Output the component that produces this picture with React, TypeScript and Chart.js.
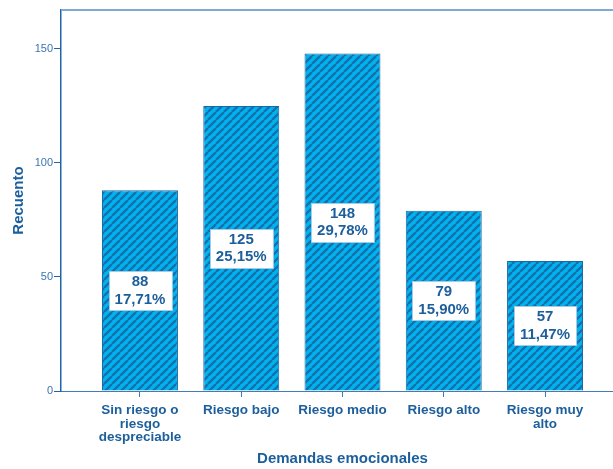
import React, { useEffect, useRef } from "react";
import { Chart, registerables } from "chart.js";

Chart.register(...registerables);

const categories: (string | string[])[] = [
  ["Sin riesgo o", "riesgo", "despreciable"],
  "Riesgo bajo",
  "Riesgo medio",
  "Riesgo alto",
  ["Riesgo muy", "alto"],
];
const counts = [88, 125, 148, 79, 57];
const percents = ["17,71%", "25,15%", "29,78%", "15,90%", "11,47%"];
const yTicks = [0, 50, 100, 150];
const xTitle = "Demandas emocionales";
const yTitle = "Recuento";

const TEXT = "#1c5f9c";
const FONT = "'Liberation Sans', Arial, sans-serif";

function makePattern(): CanvasPattern | string {
  const s = 8;
  const c = document.createElement("canvas");
  c.width = s;
  c.height = s;
  const g = c.getContext("2d");
  if (!g) return "#00aeef";
  g.fillStyle = "#00b2f0";
  g.fillRect(0, 0, s, s);
  g.strokeStyle = "#1470a8";
  g.lineWidth = 2.3;
  g.beginPath();
  for (let k = -1; k <= 1; k++) {
    g.moveTo(k * s, s);
    g.lineTo(k * s + s, 0);
  }
  g.stroke();
  const p = g.createPattern(c, "repeat");
  return p || "#00aeef";
}

const framePlugin = {
  id: "frame",
  beforeDatasetsDraw(chart: any) {
    const { ctx, chartArea } = chart;
    ctx.save();
    ctx.strokeStyle = "#7eabd2";
    ctx.lineWidth = 2;
    ctx.beginPath();
    ctx.moveTo(chartArea.left, chartArea.top);
    ctx.lineTo(chartArea.right, chartArea.top);
    ctx.lineTo(chartArea.right, chartArea.bottom);
    ctx.stroke();
    ctx.restore();
  },
};

const labelPlugin = {
  id: "valueBoxes",
  afterDatasetsDraw(chart: any) {
    const { ctx } = chart;
    const meta = chart.getDatasetMeta(0);
    ctx.save();
    ctx.font = `bold 15px ${FONT}`;
    ctx.textAlign = "center";
    ctx.textBaseline = "middle";
    meta.data.forEach((bar: any, i: number) => {
      const cx = bar.x;
      const cy = (bar.y + bar.base) / 2;
      const l1 = String(counts[i]);
      const l2 = percents[i];
      const w = Math.max(ctx.measureText(l1).width, ctx.measureText(l2).width) + 12;
      const h = 39;
      const x0 = Math.round(cx - w / 2) + 0.5;
      const y0 = Math.round(cy - h / 2) + 0.5;
      ctx.fillStyle = "#ffffff";
      ctx.fillRect(x0, y0, w, h);
      ctx.strokeStyle = "#a9c9e2";
      ctx.lineWidth = 1;
      ctx.strokeRect(x0, y0, w, h);
      ctx.fillStyle = TEXT;
      ctx.fillText(l1, cx, cy - 8.5);
      ctx.fillText(l2, cx, cy + 9);
    });
    ctx.restore();
  },
};

export default function App() {
  const ref = useRef<HTMLCanvasElement | null>(null);

  useEffect(() => {
    if (!ref.current) return;
    const pattern = makePattern();
    const chart = new Chart(ref.current, {
      type: "bar",
      data: {
        datasets: [
          {
            data: counts.map((v, i) => ({ x: i, y: v })),
            backgroundColor: pattern as any,
            borderColor: "#1a68a6",
            borderWidth: 1,
            barPercentage: 0.75,
            categoryPercentage: 1,
          },
        ],
      },
      options: {
        responsive: false,
        animation: false,
        layout: { padding: { left: 0, right: 1, top: 10, bottom: 0 } },
        plugins: {
          legend: { display: false },
          tooltip: { enabled: false },
        },
        scales: {
          x: {
            type: "linear",
            min: -0.78,
            max: 4.78,
            offset: false,
            afterBuildTicks: (axis: any) => {
              axis.ticks = categories.map((_, i) => ({ value: i }));
            },
            afterFit: (axis: any) => {
              axis.height = 78;
            },
            border: { display: true, color: "#3f7db8", width: 1 },
            grid: {
              offset: false,
              drawOnChartArea: false,
              drawTicks: true,
              tickLength: 6,
              color: "#3f7db8",
            },
            ticks: {
              autoSkip: false,
              maxRotation: 0,
              padding: 7,
              color: TEXT,
              font: { family: FONT, size: 13.5, weight: "bold", lineHeight: 1.0 },
              callback: (v: any) => categories[Number(v)] as any,
            },
            title: {
              display: true,
              text: xTitle,
              color: TEXT,
              font: { family: FONT, size: 15, weight: "bold" },
              padding: { top: 0, bottom: 1 },
            },
          },
          y: {
            type: "linear",
            min: 0,
            max: 167.1,
            afterBuildTicks: (axis: any) => {
              axis.ticks = yTicks.map((v) => ({ value: v }));
            },
            afterFit: (axis: any) => {
              axis.width = 61;
            },
            border: { display: true, color: "#1f66a8", width: 1.5 },
            grid: {
              drawOnChartArea: false,
              drawTicks: true,
              tickLength: 7,
              color: "#1f66a8",
            },
            ticks: {
              padding: 1,
              color: "#3a74b0",
              font: { family: FONT, size: 11 },
            },
            title: {
              display: true,
              text: yTitle,
              color: TEXT,
              font: { family: FONT, size: 15, weight: "bold" },
              padding: { top: 10, bottom: 0 },
            },
          },
        },
      },
      plugins: [framePlugin, labelPlugin],
    } as any);
    return () => chart.destroy();
  }, []);

  return (
    <div
      style={{
        position: "fixed",
        left: 0,
        top: 0,
        width: 613,
        height: 469,
        overflow: "hidden",
        background: "#ffffff",
      }}
    >
      <canvas ref={ref} width={625} height={469} style={{ display: "block", width: 625, height: 469 }} />
    </div>
  );
}
